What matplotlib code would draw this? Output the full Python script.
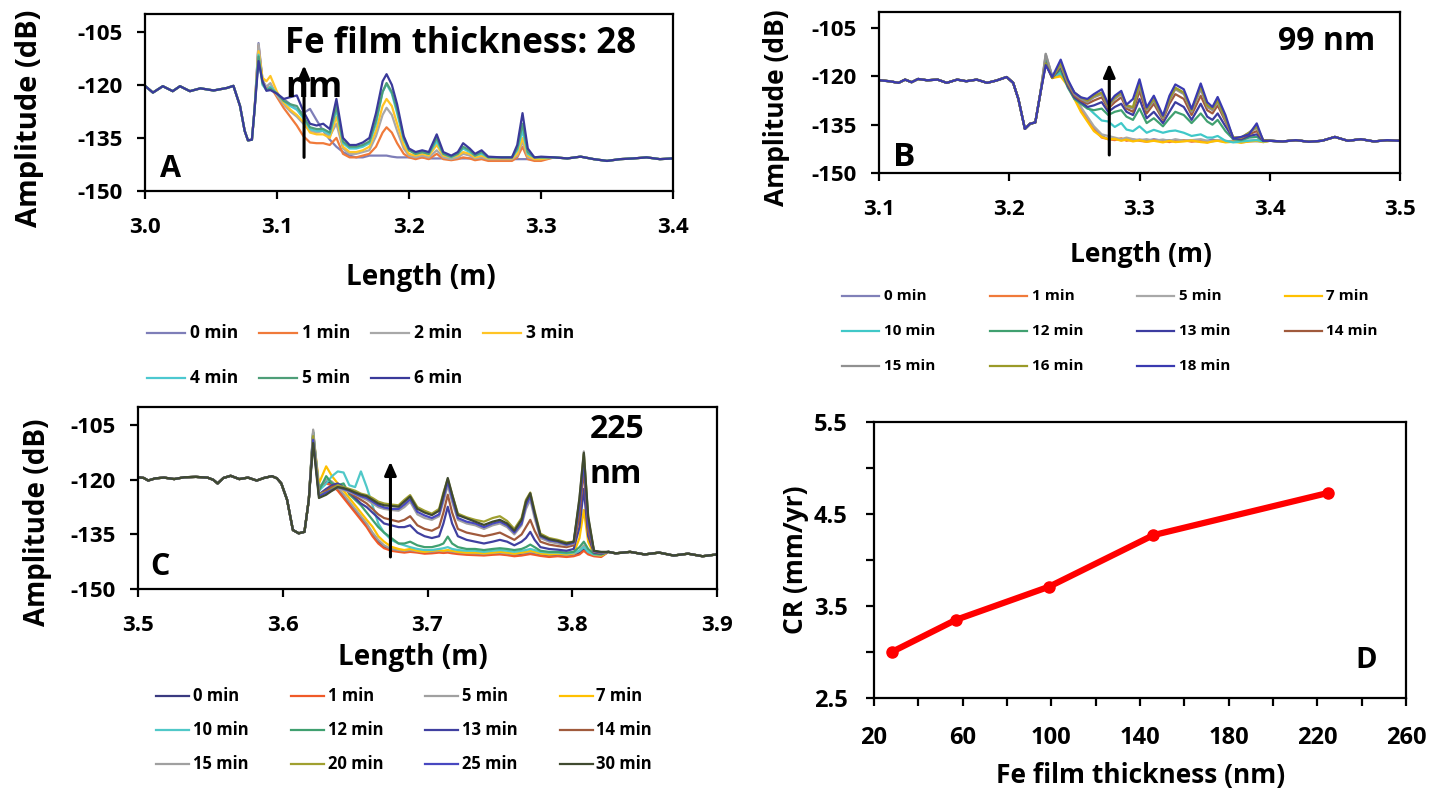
import matplotlib
matplotlib.use('Agg')
import matplotlib.pyplot as plt
from matplotlib.lines import Line2D
from matplotlib.ticker import MultipleLocator, FormatStrFormatter, FixedLocator

# ---------------- data: panel A (28 nm) ----------------
A_LABELS = ['0 min', '1 min', '2 min', '3 min', '4 min', '5 min', '6 min']
A_COLORS = ['#7E7EB8', '#F07A3A', '#A8A8A8', '#FFC425', '#4CC8D0', '#4E9E78', '#3A3A9A']
A_X_HEAD = [3.000, 3.006, 3.0135, 3.021, 3.0265, 3.034, 3.042, 3.052, 3.062, 3.067,
            3.072, 3.0755, 3.078, 3.081, 3.083]
A_Y_HEAD = [-120.3, -122.2, -120.4, -121.8, -120.4, -121.8, -121.0, -121.6, -120.9, -120.3,
            -126.0, -133.0, -135.7, -135.5, -127.0]
A_X_MID = [3.086, 3.089, 3.092, 3.095, 3.100, 3.105, 3.110, 3.115, 3.120, 3.125, 3.130,
           3.135, 3.140, 3.145, 3.150, 3.155, 3.160, 3.165, 3.170, 3.175, 3.180, 3.183,
           3.187, 3.191, 3.196, 3.200, 3.205, 3.210, 3.215, 3.221, 3.226, 3.232, 3.237,
           3.241, 3.246, 3.250, 3.255, 3.260, 3.270, 3.278, 3.282, 3.286, 3.290, 3.295, 3.300]
A_Y_MID = {
    '0 min': [-108.2, -118.5, -121, -121, -122.5, -124, -125.5, -127, -128, -126.8, -130,
              -133, -135.5, -137.5, -139, -140, -140.5, -140.5, -140, -140, -140,
              -140, -140.3, -140.5, -140.5, -140.5, -140.3, -140.5, -140.8, -140.8, -140.8,
              -140.8, -140.8, -140.8, -140.8, -140.8, -140.8, -141, -141, -141, -141,
              -141, -141, -141, -141],
    '1 min': [-109, -119, -121, -120.5, -123.5, -126.5, -129, -131.5, -134.5, -136.3, -136.5,
              -136.5, -137, -135, -139.5, -140.5, -140.5, -140, -139.5, -137.5, -133.5,
              -132, -133.5, -136.5, -139.5, -140.5, -141, -140.5, -141, -139.5, -141,
              -141.3, -141, -140.5, -140.8, -141.3, -141, -141.5, -141.5, -141.5, -140.5,
              -137.5, -141, -141.5, -141.5],
    '2 min': [-108.5, -119, -120.5, -119.5, -123, -125.5, -127.5, -129, -131, -133, -133.5,
              -133, -134.5, -131, -138, -139.5, -139.5, -139, -138.5, -134.5, -128.5,
              -126.5, -128.5, -133, -138, -140, -140.5, -140, -140.5, -138.5, -140.5,
              -141, -140.5, -139.5, -140, -140.8, -140.5, -141, -141, -141, -140,
              -136, -140.5, -141, -141],
    '3 min': [-110.5, -118, -119, -117.5, -122, -125, -127, -128.5, -130.5, -133.5, -134,
              -134, -135, -129, -137.5, -139, -139, -138.5, -137.5, -133, -126,
              -124, -126, -131, -137, -139.5, -140, -139.5, -140, -137, -140,
              -140.5, -140, -139, -139.5, -140.5, -140, -140.8, -140.8, -140.8, -139.5,
              -135, -140, -141, -141],
    '4 min': [-111.5, -120, -121.5, -120.5, -122.5, -124.5, -126, -127, -129.5, -132.5, -133,
              -133, -134, -127, -136.5, -138, -138, -137.5, -136.5, -131, -122,
              -119.8, -122.5, -128, -135.5, -138.5, -139.5, -139, -139.5, -136, -139.5,
              -140.5, -139.5, -138, -139, -140, -139.5, -140.5, -140.5, -140.5, -138.5,
              -133, -139.5, -140.5, -140.5],
    '5 min': [-112, -119.5, -121.5, -121, -122.5, -124.5, -125.5, -126, -129, -132, -132.5,
              -132.5, -133.5, -126, -136, -137.5, -137.5, -137, -136, -130, -122,
              -119.5, -122, -127, -135, -138.5, -139.5, -139, -139.5, -135, -139.5,
              -140.3, -139.5, -137.5, -138.5, -140, -139, -140.5, -140.5, -140.5, -138,
              -131, -139, -140.5, -140.5],
    '6 min': [-113.3, -119, -121.7, -121.5, -122.5, -124, -123.5, -123, -127.5, -131, -131.5,
              -131, -132.5, -124, -135, -137, -137, -136.3, -135, -128, -119,
              -117, -120, -125.5, -134.5, -138, -139, -138.5, -139, -134, -139,
              -140, -139, -136.5, -138, -139.5, -138.5, -140.3, -140.5, -140.5, -137,
              -128, -138, -140.5, -140.3],
}
A_X_TAIL = [3.31, 3.32, 3.33, 3.34, 3.35, 3.36, 3.37, 3.38, 3.39, 3.40]
A_Y_TAIL = [-140.5, -140.8, -140.3, -141, -141.5, -141, -140.8, -140.5, -141, -140.8]

# ---------------- data: panel B (99 nm) ----------------
B_LABELS = ['0 min', '1 min', '5 min', '7 min', '10 min', '12 min', '13 min', '14 min',
            '15 min', '16 min', '18 min']
B_COLORS = ['#8080B8', '#F07A3A', '#A8A8A8', '#FFC000', '#40C8C8', '#40A070', '#3C3CA0',
            '#A05A3C', '#909090', '#9A9A28', '#3A3AB0']
B_X_HEAD = [3.100, 3.108, 3.115, 3.120, 3.125, 3.130, 3.137, 3.145, 3.152, 3.160, 3.167,
            3.175, 3.183, 3.190, 3.198, 3.203, 3.207, 3.212, 3.216, 3.220, 3.224]
B_Y_HEAD = [-121.2, -121.5, -122, -121, -121.8, -120.8, -121.2, -121, -122, -121, -121.5,
            -121, -122, -121.3, -120.2, -122, -127, -136.3, -134.7, -134.3, -125]
B_X_MID = [3.228, 3.233, 3.2395, 3.245, 3.250, 3.255, 3.260, 3.265, 3.271, 3.276, 3.281,
           3.286, 3.290, 3.295, 3.300, 3.3055, 3.311, 3.318, 3.323, 3.3275, 3.334, 3.340,
           3.347, 3.352, 3.356, 3.360, 3.366, 3.372, 3.378, 3.384, 3.390, 3.395]
B_Y_MID = {
    '0 min': [-113.5, -120, -119, -122, -126, -130, -133, -136, -138.5, -139.5, -139.3,
              -139.8, -139.5, -140, -139.6, -140, -139.5, -140, -139.8, -140.2, -140,
              -139.8, -140.3, -140, -139.6, -140, -140.2, -140, -140.4, -140, -139.8, -140.2],
    '1 min': [-114, -120.5, -119.5, -122.5, -126.5, -130.5, -133.5, -136.5, -139, -139.5, -139.8,
              -139.2, -140, -139.6, -140, -140.3, -139.8, -140, -140.4, -140, -139.8,
              -140.3, -140, -140.5, -140, -139.8, -140.3, -140, -140.5, -140.2, -140, -140.4],
    '5 min': [-113, -120, -119, -122, -125.5, -129.5, -132.5, -135.5, -138, -138.5, -139,
              -139.5, -139, -139.5, -139.8, -139.5, -140, -139.6, -140, -139.5, -140,
              -139.8, -139.5, -140, -140.2, -139.8, -140, -140.3, -139.8, -140, -140.2, -139.9],
    '7 min': [-114.5, -120.5, -120, -123, -127, -131, -134, -137, -138.8, -139.5, -139.4,
              -140, -139.6, -140.2, -139.8, -140.3, -140, -140.5, -140, -140.4, -140.2,
              -139.9, -140.4, -140.6, -140.2, -140, -140.5, -140.3, -140.6, -140.2, -140, -140.4],
    '10 min': [-115, -120, -119, -122, -125, -127.5, -129.6, -131.5, -133.7, -134, -135.7,
               -134.5, -136.5, -137, -135.5, -137.5, -136.6, -137.5, -137, -136.8, -137.5,
               -138.5, -138, -139, -139, -138.5, -140, -140.5, -140.2, -140, -139.8, -140.2],
    '12 min': [-115, -120, -118, -123.5, -127, -128.5, -130, -130.5, -130, -132, -131,
               -130.5, -132.5, -133.5, -130, -134.5, -133, -135.5, -133, -131, -132,
               -134.5, -131.5, -134, -135, -133.5, -137, -139.5, -139.8, -139, -138.8, -140],
    '13 min': [-116, -120.5, -117, -123, -126.5, -128, -129.5, -129, -128, -131, -129.5,
               -128.5, -131, -132, -127, -133, -131, -134.5, -131, -128, -129.5,
               -133.5, -128.5, -132.5, -133.5, -131.5, -135.5, -139.2, -139.5, -138.5, -138, -140],
    '14 min': [-116, -120.5, -116.5, -122.5, -126, -127.5, -128.5, -127.5, -126.5, -130, -128,
               -126.5, -130, -131, -124.5, -131.5, -128.5, -133.5, -128.5, -125.5, -127,
               -132, -126, -130.5, -131.5, -129, -134, -139, -139.2, -138, -137, -139.8],
    '15 min': [-113, -120, -116.5, -122, -125.5, -127, -128, -126.5, -125.5, -129.5, -127,
               -125.5, -129.5, -130, -123, -130.5, -127.5, -133, -127.5, -124, -125.5,
               -131, -124, -129.5, -130.5, -128, -133.5, -139, -139, -137.5, -136, -139.8],
    '16 min': [-116, -120.5, -116, -121.5, -125, -126.5, -127.5, -126, -125, -129, -126.5,
               -125, -129, -129.5, -122, -130, -127, -132.5, -127, -123.5, -125,
               -130.5, -123, -129, -130, -127.5, -133, -139, -139, -137.5, -135.5, -139.8],
    '18 min': [-116.5, -120.2, -114.8, -121, -125, -126.5, -127, -125.5, -124, -128.6, -126,
               -124.5, -128.8, -127, -120.9, -129.6, -126, -132.2, -126, -122.5, -124,
               -130.1, -122.2, -128, -129.5, -126.4, -132, -139.3, -138.8, -138, -134.6, -140],
}
B_X_TAIL = [3.40, 3.41, 3.42, 3.43, 3.44, 3.45, 3.46, 3.47, 3.48, 3.49, 3.50]
B_Y_TAIL = [-140, -140.2, -139.8, -140.3, -140, -138.8, -140, -139.5, -140.2, -139.8, -140]

# ---------------- data: panel C (225 nm) ----------------
C_LABELS = ['0 min', '1 min', '5 min', '7 min', '10 min', '12 min', '13 min', '14 min',
            '15 min', '20 min', '25 min', '30 min']
C_COLORS = ['#3A3A80', '#F05A28', '#A0A0A0', '#FFC000', '#50C8C8', '#40A070', '#4040A0',
            '#A05A3C', '#A0A0A0', '#A0A030', '#4848C0', '#404A30']
C_X_HEAD = [3.500, 3.504, 3.507, 3.512, 3.518, 3.525, 3.532, 3.540, 3.548, 3.552, 3.555,
            3.559, 3.564, 3.570, 3.576, 3.582, 3.587, 3.5925, 3.596, 3.599, 3.603, 3.607,
            3.611, 3.615, 3.618]
C_Y_HEAD = [-119.3, -119.5, -120.2, -119.6, -119.4, -119.8, -119.3, -119.2, -119.4, -120, -121,
            -119.5, -118.9, -119.8, -119.4, -120.2, -119.5, -119, -119.6, -121, -125.5, -133.8,
            -134.7, -134.3, -125.5]
C_X_MID = [3.621, 3.625, 3.630, 3.634, 3.638, 3.642, 3.646, 3.650, 3.654, 3.658, 3.662,
           3.666, 3.670, 3.675, 3.680, 3.684, 3.688, 3.693, 3.698, 3.703, 3.708, 3.711,
           3.714, 3.717, 3.721, 3.727, 3.733, 3.739, 3.745, 3.750, 3.755, 3.760, 3.765,
           3.768, 3.771, 3.774, 3.778, 3.784, 3.790, 3.796, 3.801, 3.805, 3.808, 3.811,
           3.815, 3.820]
C_Y_MID = {
    '0 min': [-108, -122, -120.5, -121, -122.5, -124.5, -126.5, -128.5, -130.5, -132.5,
              -135, -137, -138.5, -139.3, -139.5, -139.8, -139.6, -139.8, -140, -139.9,
              -139.7, -139.8, -139.7, -139.9, -140.1, -140.3, -140.4, -140.5, -140.3, -140.2,
              -140.4, -140.6, -140.3, -140.2, -140, -140.2, -140.5, -140.7, -140.6, -140.8,
              -140.6, -140, -139, -140, -140.6, -140.8],
    '1 min': [-107, -122.5, -121, -121.5, -123, -125, -127, -129, -131, -133,
              -135.5, -137.5, -138.8, -139.5, -139.8, -140, -139.8, -140, -140.3, -140.2,
              -140, -140.1, -140, -140.2, -140.4, -140.6, -140.7, -140.8, -140.6, -140.5,
              -140.7, -141, -140.8, -140.6, -140.4, -140.6, -140.9, -141.2, -141, -141.2,
              -141, -140.5, -139.5, -140.5, -141, -141.2],
    '5 min': [-106.5, -122, -120, -120.5, -122, -124, -126, -128, -130, -132,
              -134.5, -136.5, -138, -139, -139.3, -139.5, -139.3, -139.6, -139.8, -139.7,
              -139.5, -139.6, -139.5, -139.7, -139.9, -140.1, -140.2, -140.3, -140.1, -140,
              -140.2, -140.4, -140.1, -140, -139.8, -140, -140.3, -140.5, -140.4, -140.6,
              -140.4, -139.5, -138, -139.8, -140.6, -140.8],
    '7 min': [-107.5, -121, -116.3, -119, -121, -123, -125, -127, -129, -131,
              -132.9, -135.5, -137, -138.4, -139, -139.3, -139, -139.5, -139.8, -139.5,
              -139.3, -139.5, -139.3, -139.5, -139.8, -140, -140, -140.2, -140, -139.8,
              -140, -140.3, -140, -139.8, -139.5, -139.8, -140.2, -140.5, -140.3, -140.5,
              -140.2, -136, -128.3, -137, -140.5, -140.8],
    '10 min': [-107, -123, -121, -119, -117.7, -118, -121.5, -122, -117.7, -122,
               -127, -132, -134.5, -136.5, -137.5, -138, -138.5, -139, -139.3, -139.3,
               -139, -138.8, -138.5, -139, -139.3, -139.5, -139.5, -139.8, -139.5, -139.3,
               -139.5, -139.8, -139.5, -139.3, -139, -139.3, -139.8, -140, -140, -140.2,
               -140, -139.5, -138.5, -139.8, -140.5, -140.5],
    '12 min': [-107, -123, -119, -121, -121.5, -121, -124, -125.5, -127, -129,
               -131, -133, -134.5, -136, -137.5, -137.5, -137, -138, -138.5, -138.5,
               -138, -137.5, -135.6, -137.5, -138.5, -139, -139, -139.3, -139, -138.8,
               -139, -139.3, -139, -138.5, -137.8, -138.5, -139.5, -139.8, -139.8, -140,
               -139.8, -138.5, -137, -139, -140.3, -140.5],
    '13 min': [-108, -124, -122.5, -121.5, -121, -122, -123.5, -125, -126.5, -127.5,
               -129, -130.5, -132, -132.5, -133, -133, -132.5, -134.5, -135.5, -136,
               -135.5, -132, -127.4, -132, -135.5, -136.5, -137, -137.5, -137, -136.5,
               -137, -138, -137, -136, -134.3, -136.5, -138.5, -139, -139.2, -139.5,
               -139, -133, -122.5, -135.5, -140, -140.3],
    '14 min': [-108, -124, -123, -122, -121.5, -122.5, -123.5, -124.5, -125.5, -126.5,
               -128, -129.5, -130.5, -131, -131.5, -131, -130, -132.5, -133.5, -134,
               -133, -129, -124.1, -129, -133.5, -134.5, -135, -135.5, -135, -134.5,
               -135.5, -136.5, -135, -133, -131, -134, -137, -137.8, -138.2, -138.5,
               -138, -130, -117, -134, -139.8, -140.2],
    '15 min': [-106.2, -124, -123.5, -123, -122.2, -122.8, -123.3, -124, -124.8, -125.5,
               -126.5, -127.5, -128, -128.3, -128.5, -127.5, -126, -129.5, -130.5, -131,
               -130, -126, -121.5, -126, -131, -132, -132.5, -133.5, -132.5, -132,
               -133, -135, -132.5, -128, -125.5, -130.5, -136, -137, -137.5, -138,
               -137.5, -125, -112.2, -131, -139.7, -140],
    '20 min': [-108, -124, -123.5, -122.5, -121.5, -122, -122.5, -123, -123.8, -124.2,
               -125, -126, -126.5, -126.8, -127, -125.5, -124.2, -127.5, -128.5, -129.3,
               -128, -123.5, -119.8, -124, -129.3, -130.3, -131, -131.5, -130.5, -130,
               -131.3, -133.5, -130.5, -125.5, -123.5, -128.5, -134.8, -136, -136.5, -137.2,
               -137, -126, -113, -130.5, -139.5, -140],
    '25 min': [-109, -124.5, -123.5, -122.8, -122, -122.5, -123, -123.8, -124.5, -125,
               -126, -127, -127.6, -128, -128, -126.8, -125.3, -128.8, -129.8, -130.5,
               -129.5, -125, -120.5, -125, -130.5, -131.5, -132, -133, -132, -131.5,
               -132.5, -134.5, -132, -127, -124.5, -129.5, -135.5, -136.6, -137, -137.8,
               -137.3, -127, -115, -132, -139.6, -140],
    '30 min': [-109.9, -125, -124.1, -123, -122, -122.3, -122.8, -123.5, -124.1, -124.5,
               -125.5, -126.5, -127, -127.2, -127.4, -126, -124.6, -128, -129, -129.7,
               -128.5, -124, -119.5, -124, -129.7, -130.6, -131.5, -132.4, -131.5, -131,
               -132, -134, -131, -126, -123.7, -129, -135.2, -136.3, -136.8, -137.5,
               -137, -125, -112.6, -130, -139.5, -139.8],
}
C_X_TAIL = [3.825, 3.830, 3.840, 3.850, 3.860, 3.870, 3.880, 3.890, 3.900]
C_Y_TAIL = [-139.8, -140.2, -139.8, -140.5, -140, -140.8, -140.3, -141, -140.5]

# ---------------- data: panel D ----------------
D_THICKNESS = [28, 57, 99, 146, 225]
D_CR = [3.0, 3.35, 3.71, 4.27, 4.73]
D_XTICKS = [20, 60, 100, 140, 180, 220, 260]
D_XMINOR = [40, 80, 120, 160, 200, 240]
D_YTICKS = [2.5, 3.5, 4.5, 5.5]
D_YMINOR = [3.0, 4.0, 5.0]

# ---------------- figure ----------------
W, H = 1429, 791
plt.rcParams['font.family'] = ['Open Sans', 'DejaVu Sans']
plt.rcParams['font.weight'] = 'bold'
plt.rcParams['axes.unicode_minus'] = False
fig = plt.figure(figsize=(W / 100, H / 100), dpi=100)


def fx(px):
    return px / W


def fy(py):
    return 1 - py / H


def rect(l, t, r, b):
    return [fx(l), fy(b), (r - l) / W, (b - t) / H]


def style_axes(ax, lab_size, xpad, ypad):
    for s in ax.spines.values():
        s.set_linewidth(1.6)
    ax.tick_params(axis='both', which='both', direction='out', length=6, width=1.6,
                   labelsize=lab_size)
    ax.tick_params(axis='x', pad=xpad)
    ax.tick_params(axis='y', pad=ypad)
    for t in ax.get_xticklabels() + ax.get_yticklabels():
        t.set_fontweight('bold')


def spectrum(box, xh, yh, xm, ymid, xt, yt, labels, colors, xlim):
    ax = fig.add_axes(rect(*box))
    for lab, col in zip(labels, colors):
        ax.plot(xh + xm + xt, yh + ymid[lab] + yt, color=col, lw=1.6)
    ax.set_xlim(*xlim)
    ax.set_ylim(-150, -100)
    ax.xaxis.set_major_locator(MultipleLocator(0.1))
    ax.xaxis.set_major_formatter(FormatStrFormatter('%.1f'))
    ax.set_yticks([-150, -135, -120, -105])
    style_axes(ax, 16, 13, 10)
    return ax


def legend_grid(labels, colors, x0, y0, px, py, ln, gap, fs):
    for i, (lab, col) in enumerate(zip(labels, colors)):
        r, c = divmod(i, 4)
        xs = x0 + c * px
        ys = y0 + r * py
        fig.add_artist(Line2D([fx(xs), fx(xs + ln)], [fy(ys), fy(ys)], color=col, lw=1.6,
                              transform=fig.transFigure))
        fig.text(fx(xs + ln + gap), fy(ys), lab, ha='left', va='center', fontsize=fs,
                 fontweight='bold')


def arrow(ax, x, y0, y1):
    ax.annotate('', xy=(x, y1), xytext=(x, y0),
                arrowprops=dict(arrowstyle='-|>,head_width=0.35,head_length=0.8',
                                lw=2.2, color='black', shrinkA=0, shrinkB=0))


# Panel A
axA = spectrum((145, 14, 673, 191), A_X_HEAD, A_Y_HEAD, A_X_MID, A_Y_MID, A_X_TAIL, A_Y_TAIL,
               A_LABELS, A_COLORS, (3.0, 3.4))
arrow(axA, 3.1205, -140.5, -114.5)
fig.text(fx(285), fy(53), 'Fe film thickness: 28', fontsize=25, fontweight='bold', va='baseline')
fig.text(fx(285), fy(97), 'nm', fontsize=25, fontweight='bold', va='baseline')
fig.text(fx(160), fy(177), 'A', fontsize=22, fontweight='bold', va='baseline')
fig.text(fx(421), fy(277), 'Length (m)', fontsize=20, fontweight='bold', ha='center', va='center')
fig.text(fx(30), fy(118), 'Amplitude (dB)', fontsize=21, fontweight='bold', ha='center',
         va='center', rotation=90)
legend_grid(A_LABELS, A_COLORS, 147, 333, 112, 45, 38, 5, 12.5)

# Panel B
axB = spectrum((879, 12, 1400, 173), B_X_HEAD, B_Y_HEAD, B_X_MID, B_Y_MID, B_X_TAIL, B_Y_TAIL,
               B_LABELS, B_COLORS, (3.1, 3.5))
arrow(axB, 3.2768, -144.4, -116.0)
fig.text(fx(1375), fy(50), '99 nm', fontsize=23, fontweight='bold', va='baseline', ha='right')
fig.text(fx(893), fy(166), 'B', fontsize=24, fontweight='bold', va='baseline')
fig.text(fx(1141), fy(255), 'Length (m)', fontsize=19, fontweight='bold', ha='center', va='center')
fig.text(fx(777), fy(108), 'Amplitude (dB)', fontsize=19, fontweight='bold', ha='center',
         va='center', rotation=90)
legend_grid(B_LABELS, B_COLORS, 842, 296, 147.5, 35, 37, 5, 11)

# Panel C
axC = spectrum((138, 407, 717, 589), C_X_HEAD, C_Y_HEAD, C_X_MID, C_Y_MID, C_X_TAIL, C_Y_TAIL,
               C_LABELS, C_COLORS, (3.5, 3.9))
arrow(axC, 3.6744, -141.2, -115.0)
fig.text(fx(590), fy(438), '225', fontsize=23, fontweight='bold', va='baseline')
fig.text(fx(590), fy(483), 'nm', fontsize=23, fontweight='bold', va='baseline')
fig.text(fx(150), fy(575), 'C', fontsize=22, fontweight='bold', va='baseline')
fig.text(fx(413), fy(657), 'Length (m)', fontsize=20, fontweight='bold', ha='center', va='center')
fig.text(fx(38), fy(522), 'Amplitude (dB)', fontsize=20, fontweight='bold', ha='center',
         va='center', rotation=90)
legend_grid(C_LABELS, C_COLORS, 156, 696, 134.5, 34, 33, 4, 12)

# Panel D
axD = fig.add_axes(rect(874, 422, 1406, 698))
axD.plot(D_THICKNESS, D_CR, color='#FF0000', lw=4.5, marker='o', ms=8, solid_capstyle='round')
axD.set_xlim(20, 260)
axD.set_ylim(2.5, 5.5)
axD.xaxis.set_major_locator(FixedLocator(D_XTICKS))
axD.xaxis.set_minor_locator(FixedLocator(D_XMINOR))
axD.yaxis.set_major_locator(FixedLocator(D_YTICKS))
axD.yaxis.set_minor_locator(FixedLocator(D_YMINOR))
axD.xaxis.set_major_formatter(FormatStrFormatter('%d'))
axD.yaxis.set_major_formatter(FormatStrFormatter('%.1f'))
style_axes(axD, 17, 14, 13)
fig.text(fx(1355), fy(668), 'D', fontsize=21, fontweight='bold', va='baseline')
fig.text(fx(1141), fy(775), 'Fe film thickness (nm)', fontsize=19, fontweight='bold',
         ha='center', va='center')
fig.text(fx(795), fy(560), 'CR (mm/yr)', fontsize=19, fontweight='bold', ha='center',
         va='center', rotation=90)

fig.savefig('out.png', dpi=100)
